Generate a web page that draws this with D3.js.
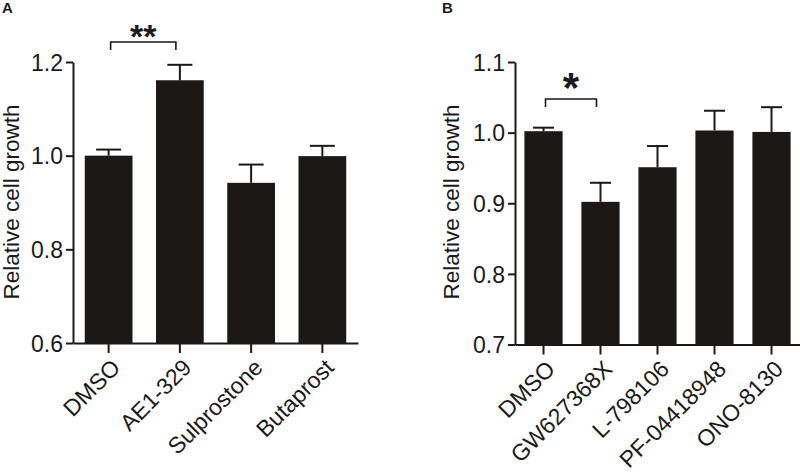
<!DOCTYPE html>
<html>
<head>
<meta charset="utf-8">
<script src="https://cdn.jsdelivr.net/npm/d3@7"></script>
<style>
  body { margin: 0; background: #fff; }
  text { font-family: "Liberation Sans", Arial, sans-serif; fill: #1a1a1a; }
</style>
</head>
<body>
<div class="graph_container"></div>
<script>
// panel A data
const catsA = ['DMSO', 'AE1-329', 'Sulprostone', 'Butaprost'];
const meanA = [1.0, 1.161, 0.942, 0.999];
const errA = [0.013, 0.033, 0.039, 0.022];
const ticksA = [0.6, 0.8, 1.0, 1.2];

// panel B data
const catsB = ['DMSO', 'GW627368X', 'L-798106', 'PF-04418948', 'ONO-8130'];
const meanB = [1.002, 0.902, 0.951, 1.003, 1.001];
const errB = [0.005, 0.027, 0.030, 0.028, 0.035];
const ticksB = [0.7, 0.8, 0.9, 1.0, 1.1];

const barColor = '#1b1816';

const svg = d3.select('.graph_container').append('svg')
  .attr('width', 800)
  .attr('height', 472);

function drawPanel(opt) {
  const x = d3.scaleBand()
    .domain(opt.cats)
    .range([opt.left, opt.left + 285])
    .paddingInner(0.33)
    .paddingOuter(0.165);
  const y = d3.scaleLinear().domain(opt.domain).range([opt.bottom, 62]);

  const g = svg.append('g');

  // bars
  g.selectAll('.bar')
    .data(opt.cats)
    .enter().append('rect')
    .attr('x', d => x(d))
    .attr('width', x.bandwidth())
    .attr('y', (d, i) => y(opt.mean[i]))
    .attr('height', (d, i) => opt.bottom - y(opt.mean[i]))
    .style('fill', barColor);

  // error bars (upper only)
  const eb = g.selectAll('.err')
    .data(opt.cats)
    .enter().append('g')
    .attr('stroke', barColor)
    .attr('stroke-width', 2);
  eb.append('line')
    .attr('x1', d => x(d) + x.bandwidth() / 2)
    .attr('x2', d => x(d) + x.bandwidth() / 2)
    .attr('y1', (d, i) => y(opt.mean[i]))
    .attr('y2', (d, i) => y(opt.mean[i] + opt.err[i]));
  eb.append('line')
    .attr('x1', d => x(d) + x.bandwidth() / 2 - opt.cap)
    .attr('x2', d => x(d) + x.bandwidth() / 2 + opt.cap)
    .attr('y1', (d, i) => y(opt.mean[i] + opt.err[i]))
    .attr('y2', (d, i) => y(opt.mean[i] + opt.err[i]));

  // y axis
  const yAxis = g.append('g')
    .attr('transform', 'translate(' + opt.left + ',0)')
    .call(d3.axisLeft(y).tickValues(opt.ticks).tickFormat(d3.format('.1f'))
      .tickSize(7).tickPadding(3).tickSizeOuter(0));
  yAxis.selectAll('text').style('font-size', '23px').attr('dy', '0.36em');

  // x axis
  const xAxis = g.append('g')
    .attr('transform', 'translate(0,' + opt.bottom + ')')
    .call(d3.axisBottom(x).tickSize(10).tickSizeOuter(0));
  xAxis.selectAll('text')
    .style('font-size', '23px')
    .style('text-anchor', 'end')
    .attr('dy', 0)
    .attr('y', 0)
    .attr('transform', 'translate(13,26) rotate(-45)');

  g.selectAll('.domain, .tick line')
    .attr('stroke', barColor)
    .attr('stroke-width', 2);

  // y axis label
  g.append('text')
    .attr('transform', 'translate(' + opt.labelX + ',202) rotate(-90)')
    .style('text-anchor', 'middle')
    .style('font-size', '22.5px')
    .text('Relative cell growth');

  // panel letter
  g.append('text')
    .attr('x', opt.letterX)
    .attr('y', 13)
    .style('font-size', '15px')
    .style('font-weight', 'bold')
    .text(opt.letter);

  // significance bracket
  const x0 = x(opt.sig[0]) + x.bandwidth() / 2 + 2;
  const x1 = x(opt.sig[1]) + x.bandwidth() / 2 - 4;
  g.append('path')
    .attr('d', 'M' + x0 + ',' + (opt.brY + 8) + 'V' + opt.brY + 'H' + x1 + 'V' + (opt.brY + 8))
    .attr('fill', 'none')
    .attr('stroke', barColor)
    .attr('stroke-width', 1.6);
  g.append('text')
    .attr('x', (x0 + x1) / 2)
    .attr('y', opt.starY)
    .style('text-anchor', 'middle')
    .style('font-size', opt.starSize + 'px')
    .style('font-weight', 'bold')
    .text(opt.stars);
}

drawPanel({
  cats: catsA, mean: meanA, err: errA, ticks: ticksA,
  domain: [0.6, 1.2], left: 73, bottom: 343, cap: 12.5,
  labelX: 19, letter: 'A', letterX: 2,
  sig: ['DMSO', 'AE1-329'], brY: 42, stars: '**', starY: 48, starSize: 34
});

drawPanel({
  cats: catsB, mean: meanB, err: errB, ticks: ticksB,
  domain: [0.7, 1.1], left: 515, bottom: 344.5, cap: 10.5,
  labelX: 459, letter: 'B', letterX: 442,
  sig: ['DMSO', 'GW627368X'], brY: 99, stars: '*', starY: 102, starSize: 42
});
</script>
</body>
</html>
